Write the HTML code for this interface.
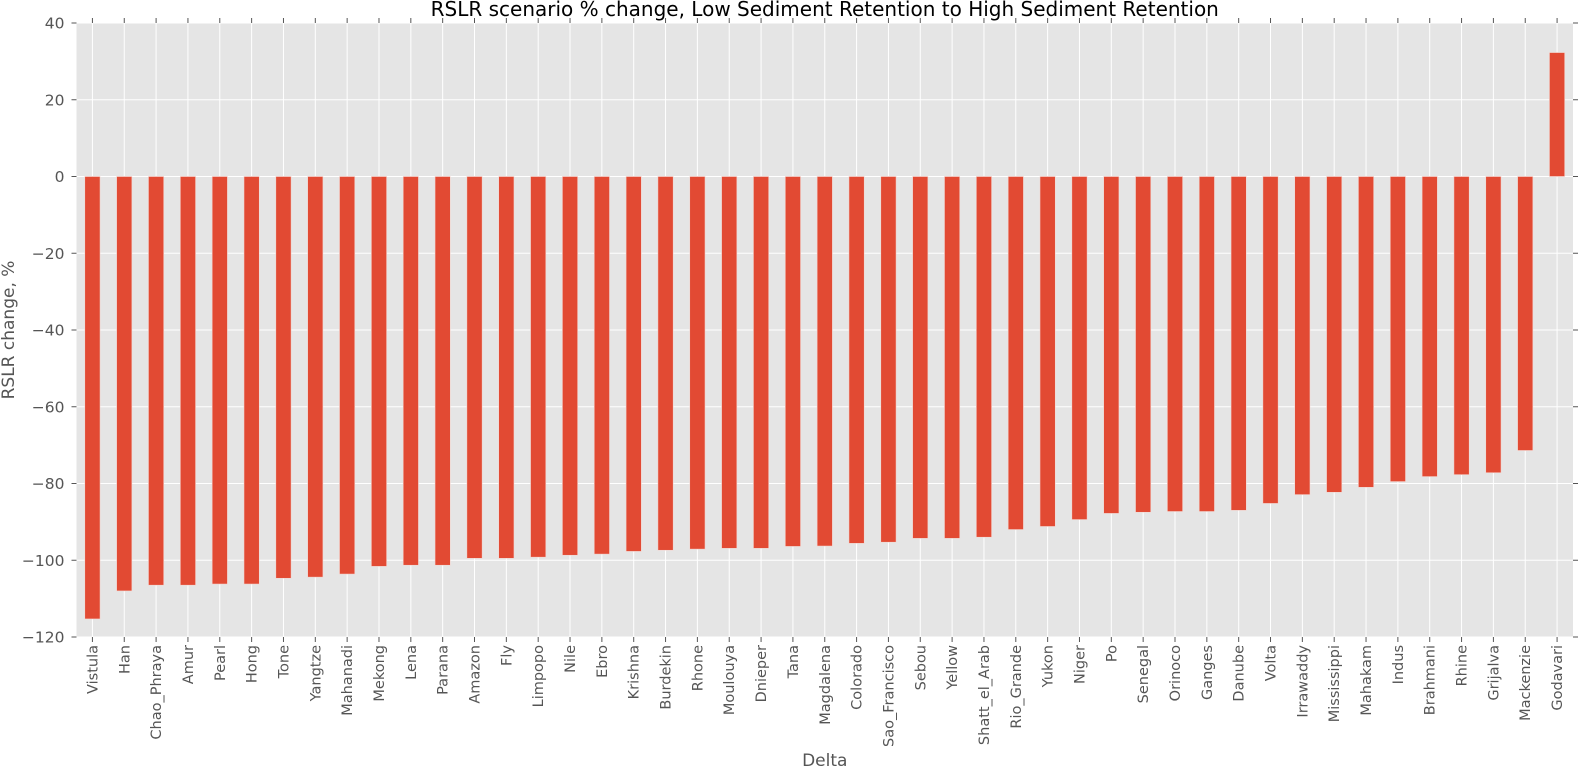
<!DOCTYPE html>
<html><head><meta charset="utf-8"><style>
body{margin:0;background:#fff;}
svg text{font-family:"DejaVu Sans","Liberation Sans",sans-serif;}
</style></head><body>
<svg id="chart" width="1580" height="767" xmlns="http://www.w3.org/2000/svg"></svg>
<script>
const categories=["Vistula","Han","Chao_Phraya","Amur","Pearl","Hong","Tone","Yangtze","Mahanadi","Mekong","Lena","Parana","Amazon","Fly","Limpopo","Nile","Ebro","Krishna","Burdekin","Rhone","Moulouya","Dnieper","Tana","Magdalena","Colorado","Sao_Francisco","Sebou","Yellow","Shatt_el_Arab","Rio_Grande","Yukon","Niger","Po","Senegal","Orinoco","Ganges","Danube","Volta","Irrawaddy","Mississippi","Mahakam","Indus","Brahmani","Rhine","Grijalva","Mackenzie","Godavari"];
const values=[-115.3,-108,-106.5,-106.5,-106.2,-106.2,-104.7,-104.4,-103.6,-101.6,-101.3,-101.3,-99.5,-99.5,-99.2,-98.7,-98.4,-97.7,-97.4,-97.1,-96.9,-96.9,-96.4,-96.3,-95.6,-95.3,-94.3,-94.3,-94,-92,-91.2,-89.4,-87.8,-87.5,-87.3,-87.3,-87,-85.2,-82.9,-82.3,-81,-79.5,-78.2,-77.7,-77.2,-71.4,32.3];
const yTicks=[40,20,0,-20,-40,-60,-80,-100,-120];
const ns="http://www.w3.org/2000/svg";
const svg=document.getElementById('chart');
const L=76.5,R=1573,T=23,B=637,yMin=-120,yMax=40;
const y=v=>T+(yMax-v)/(yMax-yMin)*(B-T);
const step=(R-L)/categories.length;
const x=i=>L+step*(i+0.5);
function mk(tag,attrs,parent){const e=document.createElementNS(ns,tag);for(const k in attrs)e.setAttribute(k,attrs[k]);(parent||svg).appendChild(e);return e;}
const bg=mk('rect',{x:L,y:T,width:R-L,height:B-T,fill:'#e5e5e5'});


yTicks.forEach(t=>{
  const g=mk('line',{x1:L,x2:R,y1:y(t),y2:y(t),stroke:'#fff','stroke-width':1});
  
  
  mk('line',{x1:L-5,x2:L,y1:y(t),y2:y(t),stroke:'#555'});
  mk('line',{x1:R,x2:R+5,y1:y(t),y2:y(t),stroke:'#555'});
  const tx=mk('text',{x:L-12,y:y(t)+5.5,'text-anchor':'end','font-size':15.5,fill:'#555'});
  tx.textContent=t===0?'0':(t<0?'\u2212'+(-t):''+t);
  
  
});
categories.forEach((c,i)=>{
  const g=mk('line',{x1:x(i),x2:x(i),y1:T,y2:B,stroke:'#fff','stroke-width':1});
  
  
  mk('line',{x1:x(i),x2:x(i),y1:B,y2:B+5,stroke:'#555'});
  mk('line',{x1:x(i),x2:x(i),y1:T-5,y2:T,stroke:'#555'});
});
categories.forEach((c,i)=>{
  const v=values[i],bw=step*0.48;
  const r=mk('rect',{x:x(i)-bw/2,y:Math.min(y(v),y(0)),width:bw,height:Math.abs(y(v)-y(0)),fill:'#e24a33',stroke:'#f3d7d2','stroke-width':0.6});
  
  
  const tx=mk('text',{x:0,y:0,'text-anchor':'end','font-size':14.5,fill:'#555',transform:`translate(${x(i)+5},${B+8}) rotate(-90)`});
  tx.textContent=c;
  
  
});
const title=mk('text',{x:(L+R)/2,y:16,'text-anchor':'middle','font-size':20,fill:'#000'});
title.textContent='RSLR scenario % change, Low Sediment Retention to High Sediment Retention';


const yl=mk('text',{x:0,y:0,'text-anchor':'middle','font-size':17,fill:'#555',transform:`translate(14,${(T+B)/2}) rotate(-90)`});
yl.textContent='RSLR change, %';


const xl=mk('text',{x:(L+R)/2,y:766,'text-anchor':'middle','font-size':17,fill:'#555'});
xl.textContent='Delta';


</script>
</body></html>
